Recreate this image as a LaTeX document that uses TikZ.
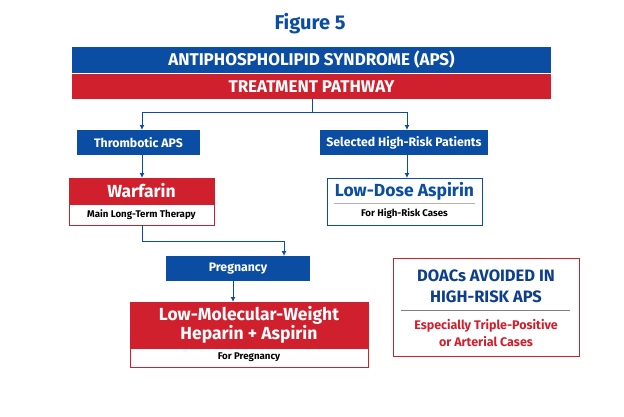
\documentclass[tikz,border=0pt]{standalone}
\usepackage{fontspec}
\setmainfont{Fira Sans}
\usetikzlibrary{arrows.meta}
\definecolor{bl}{HTML}{0B4DA2}
\definecolor{rd}{HTML}{D0202E}
\definecolor{tb}{HTML}{0E3F8C}
\begin{document}
\begin{tikzpicture}[x=1pt,y=-1pt,
 conn/.style={draw=bl,line width=1pt,-{Latex[length=5pt,width=5pt]}},
 lbl/.style={font=\bfseries\fontsize{12.3}{14}\selectfont,text=white},
 big/.style={font=\bfseries\fontsize{17.5}{20}\selectfont},
 sub/.style={font=\bfseries\fontsize{9.7}{11}\selectfont},
]
\useasboundingbox (0,0) rectangle (624,416);
\node[font=\bfseries\fontsize{20}{22}\selectfont,text=bl] (fig) at (310,24) {Figure 5};
% header bars
\fill[bl] (72,47) rectangle (551,73);
\node[font=\bfseries\fontsize{17}{18}\selectfont,text=white] (h1) at (311.5,60) {ANTIPHOSPHOLIPID SYNDROME (APS)};
\fill[rd] (72,74) rectangle (551,99);
\node[font=\bfseries\fontsize{17}{18}\selectfont,text=white] (h2) at (311.5,87) {TREATMENT PATHWAY};
\coordinate (hb) at (312,99);
% level 2
\fill[bl] (77,130) rectangle (200,155);
\node[lbl] (thr) at (138.5,142.5) {Thrombotic APS};
\fill[bl] (320,130) rectangle (488,155);
\node[lbl] (sel) at (404,142.5) {Selected High-Risk Patients};
\draw[conn] (hb) -- (312,112) -| (142,130);
\draw[conn] (312,112) -| (407,130);
% warfarin
\fill[rd] (69,178) rectangle (214,204);
\draw[rd,fill=white,line width=0.8pt] (69,204) rectangle (214,225);
\draw[rd,line width=0.8pt] (69,178) rectangle (214,225);
\node[big,text=white] (war) at (141.5,191) {Warfarin};
\node[sub] (warsub) at (141.5,214.5) {Main Long-Term Therapy};
\draw[conn] (142,155) -- (142,178);
% aspirin
\draw[bl,fill=white,line width=0.9pt] (327,178) rectangle (482,225);
\draw[gray!60,line width=0.6pt] (334,203) -- (475,203);
\node[big,text=bl] (asp) at (404.5,191) {Low-Dose Aspirin};
\node[sub] (aspsub) at (404.5,214) {For High-Risk Cases};
\draw[conn] (407,155) -- (407,178);
% pregnancy
\fill[bl] (166,256) rectangle (310,281);
\node[lbl] (preg) at (238,268.5) {Pregnancy};
\draw[conn] (142,225) -- (142,241) -| (284,256);
% LMWH
\fill[rd] (130,302) rectangle (368,348);
\draw[rd,fill=white,line width=0.8pt] (130,348) rectangle (368,367);
\draw[rd,line width=0.8pt] (130,302) rectangle (368,367);
\node[font=\bfseries\fontsize{17.5}{19}\selectfont,text=white,align=center] (lmwh) at (249,325) {Low-Molecular-Weight\\Heparin + Aspirin};
\node[sub] (lmsub) at (249,357.5) {For Pregnancy};
\draw[conn] (233,281) -- (233,302);
% DOAC
\draw[rd,line width=1pt,fill=white] (393,258) rectangle (579,356);
\node[font=\bfseries\fontsize{16.5}{21}\selectfont,text=tb,align=center] (doac) at (486,286) {DOACs AVOIDED IN\\HIGH-RISK APS};
\draw[gray,line width=0.7pt] (401,310) -- (570,310);
\node[font=\bfseries\fontsize{12.5}{17}\selectfont,text=rd,align=center] (doacsub) at (486,333) {Especially Triple-Positive\\or Arterial Cases};
\end{tikzpicture}
\end{document}
